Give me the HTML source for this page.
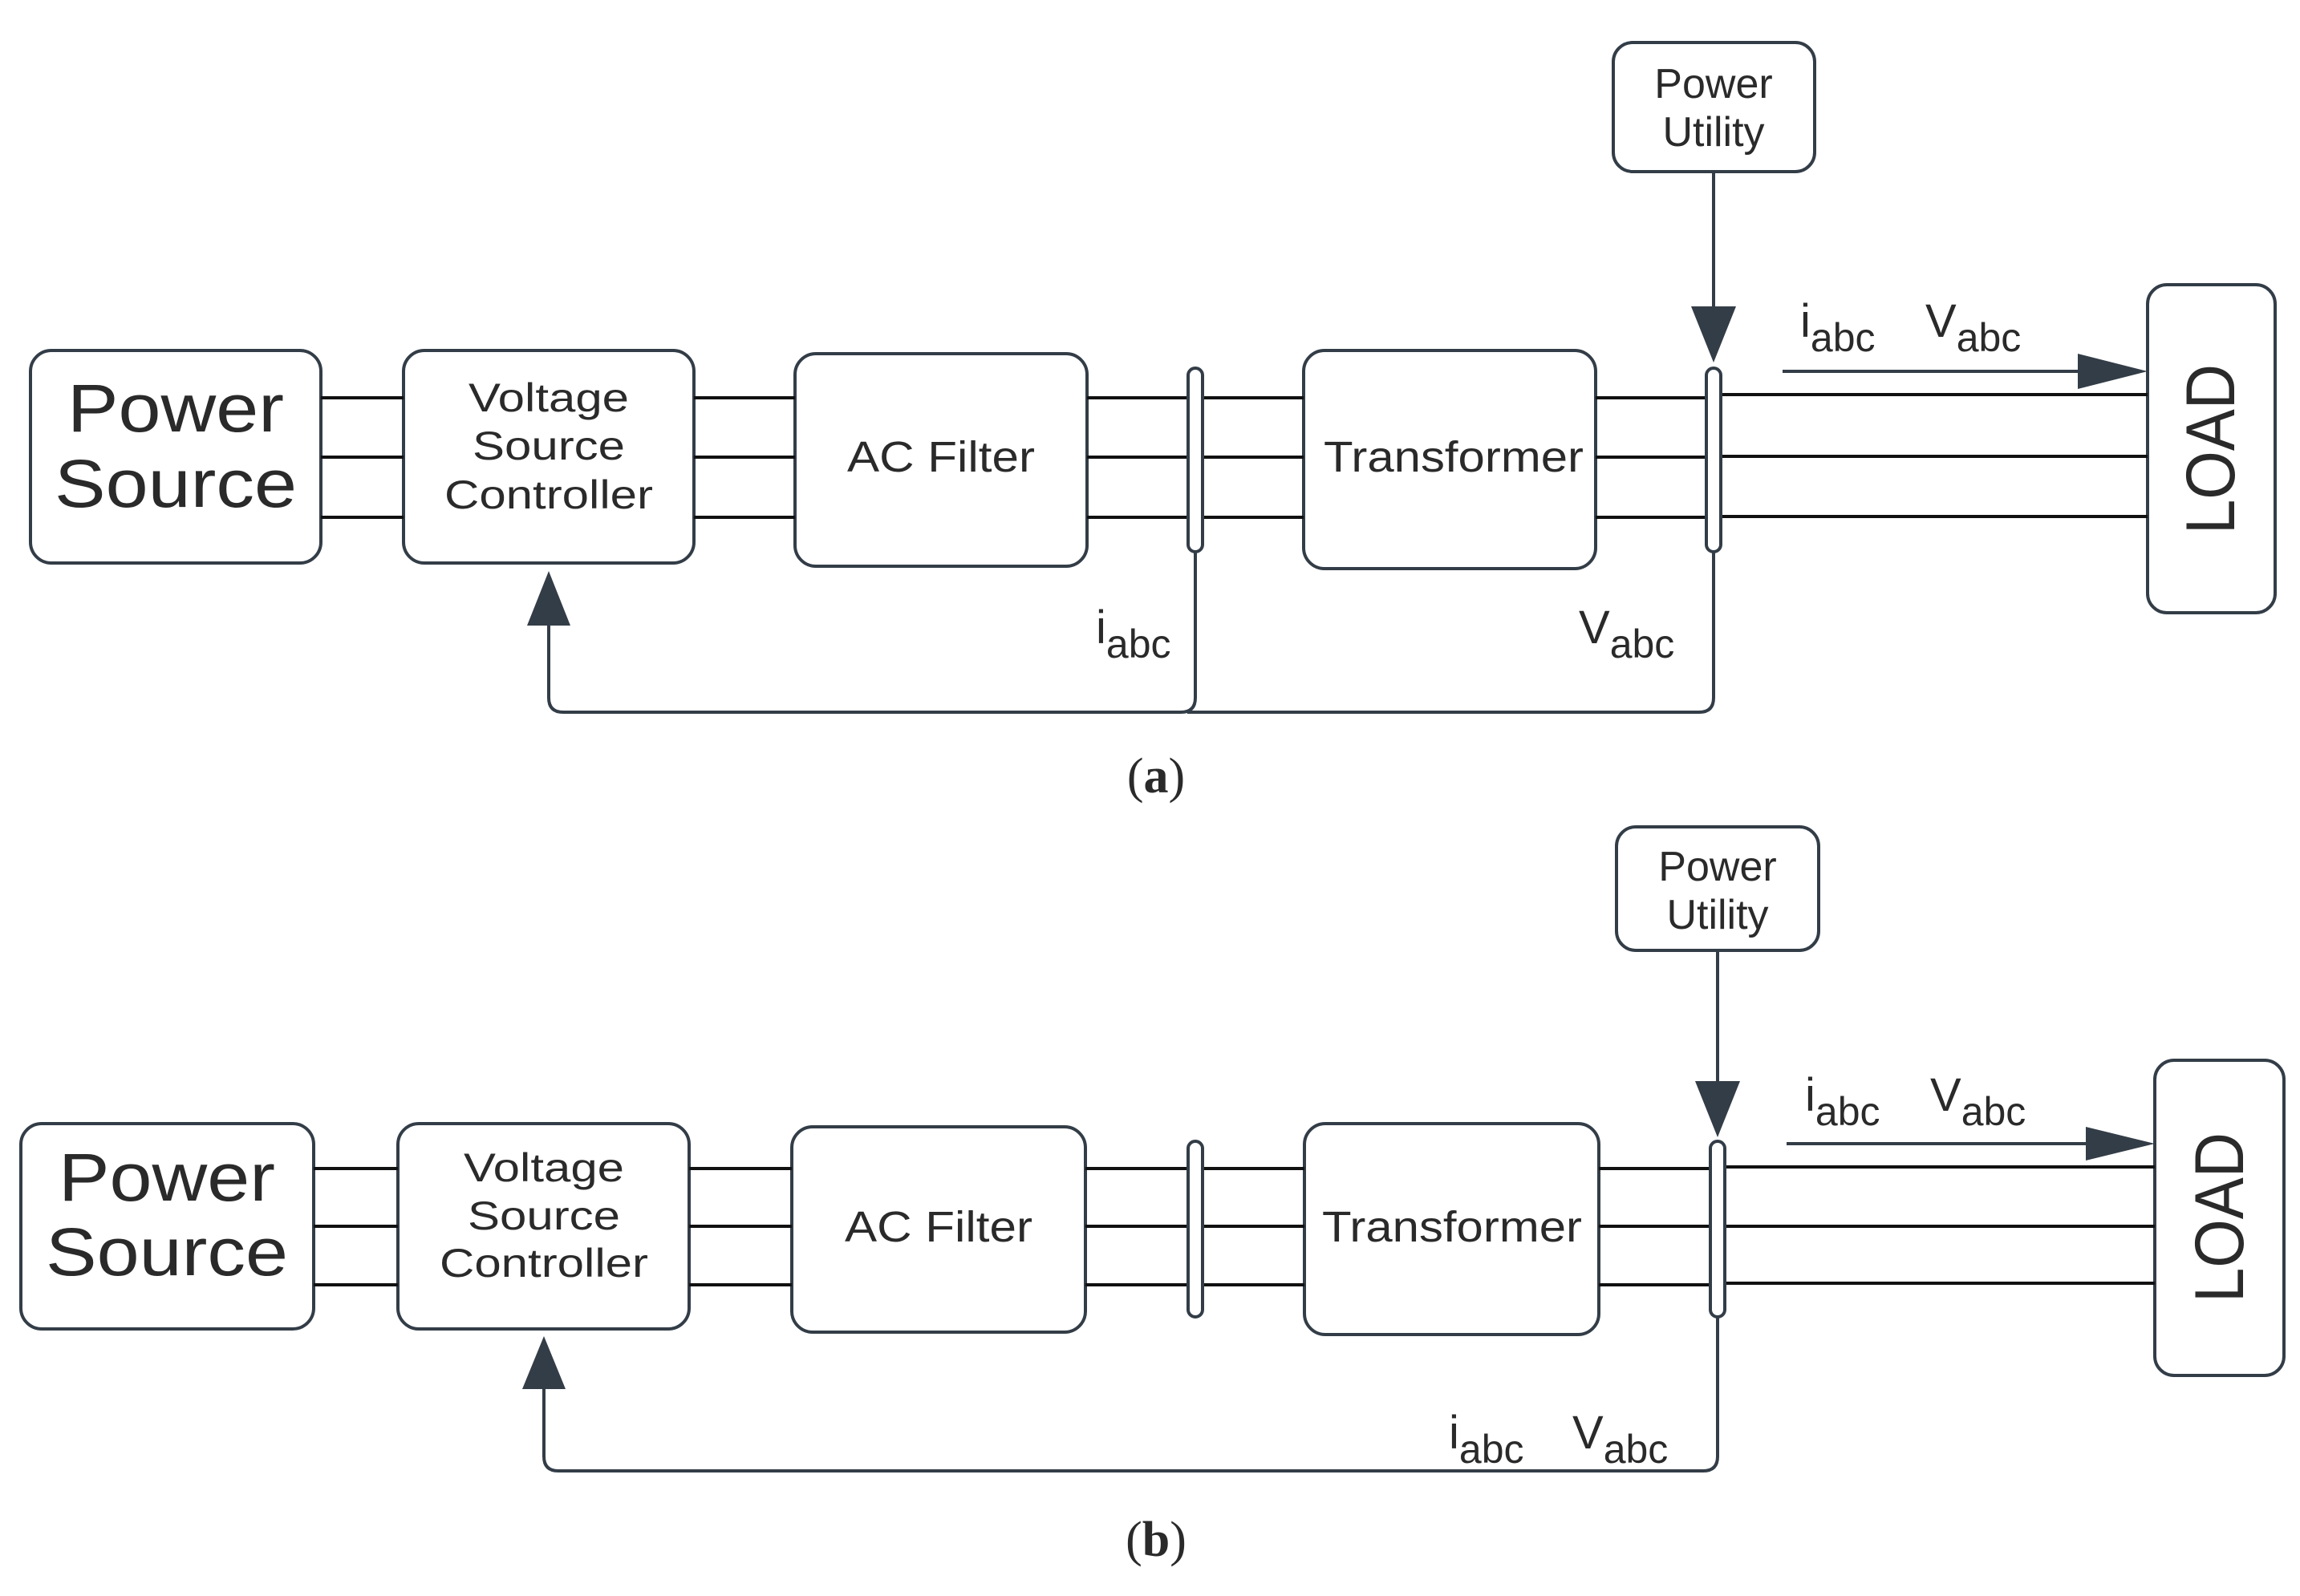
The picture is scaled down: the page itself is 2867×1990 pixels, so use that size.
<!DOCTYPE html>
<html><head><meta charset="utf-8"><style>
html,body{margin:0;padding:0;background:#fff}
svg{display:block}
text{font-family:"Liberation Sans",sans-serif;fill:#2a2a2a}
</style></head><body>
<svg width="2867" height="1990" viewBox="0 0 2867 1990" xmlns="http://www.w3.org/2000/svg">
<g fill="none" stroke="#333d47" stroke-width="4">
<!-- TOP -->
<rect x="38" y="437" width="362" height="265" rx="26"/>
<rect x="503" y="437" width="362" height="265" rx="26"/>
<rect x="991" y="441" width="364" height="265" rx="26"/>
<rect x="1625" y="437" width="364" height="272" rx="26"/>
<rect x="2011" y="53" width="251" height="161" rx="24"/>
<rect x="2677" y="355" width="159" height="409" rx="24"/>
<g stroke="#111">
<line x1="400" y1="496" x2="503" y2="496"/><line x1="400" y1="570" x2="503" y2="570"/><line x1="400" y1="645" x2="503" y2="645"/>
<line x1="865" y1="496" x2="991" y2="496"/><line x1="865" y1="570" x2="991" y2="570"/><line x1="865" y1="645" x2="991" y2="645"/>
<line x1="1355" y1="496" x2="1625" y2="496"/><line x1="1355" y1="570" x2="1625" y2="570"/><line x1="1355" y1="645" x2="1625" y2="645"/>
<line x1="1989" y1="496" x2="2136" y2="496"/><line x1="1989" y1="570" x2="2136" y2="570"/><line x1="1989" y1="645" x2="2136" y2="645"/>
<line x1="2136" y1="492" x2="2677" y2="492"/><line x1="2136" y1="569" x2="2677" y2="569"/><line x1="2136" y1="644" x2="2677" y2="644"/>
</g>
<rect x="1481" y="459" width="18" height="229" rx="9" fill="#fff"/>
<rect x="2127" y="459" width="18" height="229" rx="9" fill="#fff"/>
<line x1="2136" y1="214" x2="2136" y2="385"/>
<line x1="2222" y1="463" x2="2600" y2="463"/>
<path d="M1490 688 V870 q0 18 -18 18 H702 q-18 0 -18 -18 V775"/>
<path d="M2136 688 V870 q0 18 -18 18 H1480"/>
<!-- BOTTOM -->
<rect x="26" y="1401" width="365" height="256" rx="26"/>
<rect x="496" y="1401" width="363" height="256" rx="26"/>
<rect x="987" y="1405" width="366" height="256" rx="26"/>
<rect x="1626" y="1401" width="367" height="263" rx="26"/>
<rect x="2015" y="1031" width="252" height="154" rx="24"/>
<rect x="2686" y="1322" width="161" height="393" rx="24"/>
<g stroke="#111">
<line x1="391" y1="1457" x2="496" y2="1457"/><line x1="391" y1="1529" x2="496" y2="1529"/><line x1="391" y1="1602" x2="496" y2="1602"/>
<line x1="859" y1="1457" x2="987" y2="1457"/><line x1="859" y1="1529" x2="987" y2="1529"/><line x1="859" y1="1602" x2="987" y2="1602"/>
<line x1="1353" y1="1457" x2="1626" y2="1457"/><line x1="1353" y1="1529" x2="1626" y2="1529"/><line x1="1353" y1="1602" x2="1626" y2="1602"/>
<line x1="1993" y1="1457" x2="2141" y2="1457"/><line x1="1993" y1="1529" x2="2141" y2="1529"/><line x1="1993" y1="1602" x2="2141" y2="1602"/>
<line x1="2141" y1="1455" x2="2686" y2="1455"/><line x1="2141" y1="1529" x2="2686" y2="1529"/><line x1="2141" y1="1600" x2="2686" y2="1600"/>
</g>
<rect x="1481" y="1423" width="18" height="219" rx="9" fill="#fff"/>
<rect x="2132" y="1423" width="18" height="219" rx="9" fill="#fff"/>
<line x1="2141" y1="1185" x2="2141" y2="1352"/>
<line x1="2227" y1="1426" x2="2610" y2="1426"/>
<path d="M2141 1642 V1816 q0 18 -18 18 H696 q-18 0 -18 -18 V1730"/>
</g>
<g fill="#333d47">
<polygon points="2108,382 2164,382 2136,452"/>
<polygon points="2590,441 2677,463 2590,485"/>
<polygon points="684,712 657,780 711,780"/>
<polygon points="2113,1348 2169,1348 2141,1418"/>
<polygon points="2600,1405 2686,1426 2600,1447"/>
<polygon points="678,1666 651,1732 705,1732"/>
</g>
<!-- TEXT TOP -->
<g text-anchor="middle">
<text x="219" y="538" font-size="84" textLength="270" lengthAdjust="spacingAndGlyphs">Power</text>
<text x="219" y="632" font-size="84" textLength="302" lengthAdjust="spacingAndGlyphs">Source</text>
<text x="684" y="513" font-size="50" textLength="200" lengthAdjust="spacingAndGlyphs">Voltage</text>
<text x="684" y="573" font-size="50" textLength="190" lengthAdjust="spacingAndGlyphs">Source</text>
<text x="684" y="634" font-size="50" textLength="260" lengthAdjust="spacingAndGlyphs">Controller</text>
<text x="1173" y="588" font-size="54" textLength="234" lengthAdjust="spacingAndGlyphs">AC Filter</text>
<text x="1812" y="588" font-size="54" textLength="324" lengthAdjust="spacingAndGlyphs">Transformer</text>
<text x="2136" y="122" font-size="52">Power</text>
<text x="2136" y="182" font-size="52">Utility</text>
<text transform="translate(2785,560) rotate(-90)" font-size="86" textLength="212" lengthAdjust="spacingAndGlyphs">LOAD</text>
</g>
<g font-size="58">
<text x="2244" y="420">i<tspan font-size="50" dy="18">abc</tspan></text>
<text x="2400" y="420">V<tspan font-size="50" dy="18">abc</tspan></text>
<text x="1366" y="802">i<tspan font-size="50" dy="18">abc</tspan></text>
<text x="1968" y="802">V<tspan font-size="50" dy="18">abc</tspan></text>
<text x="2250" y="1385">i<tspan font-size="50" dy="18">abc</tspan></text>
<text x="2406" y="1385">V<tspan font-size="50" dy="18">abc</tspan></text>
<text x="1806" y="1806">i<tspan font-size="50" dy="18">abc</tspan></text>
<text x="1960" y="1806">V<tspan font-size="50" dy="18">abc</tspan></text>
</g>
<!-- TEXT BOTTOM -->
<g text-anchor="middle">
<text x="208" y="1497" font-size="84" textLength="270" lengthAdjust="spacingAndGlyphs">Power</text>
<text x="208" y="1590" font-size="84" textLength="302" lengthAdjust="spacingAndGlyphs">Source</text>
<text x="678" y="1473" font-size="50" textLength="200" lengthAdjust="spacingAndGlyphs">Voltage</text>
<text x="678" y="1533" font-size="50" textLength="190" lengthAdjust="spacingAndGlyphs">Source</text>
<text x="678" y="1592" font-size="50" textLength="260" lengthAdjust="spacingAndGlyphs">Controller</text>
<text x="1170" y="1548" font-size="54" textLength="234" lengthAdjust="spacingAndGlyphs">AC Filter</text>
<text x="1810" y="1548" font-size="54" textLength="324" lengthAdjust="spacingAndGlyphs">Transformer</text>
<text x="2141" y="1098" font-size="52">Power</text>
<text x="2141" y="1158" font-size="52">Utility</text>
<text transform="translate(2796,1518) rotate(-90)" font-size="86" textLength="212" lengthAdjust="spacingAndGlyphs">LOAD</text>
<text x="1441" y="988" font-size="62" style="font-family:'Liberation Serif',serif">(<tspan font-weight="bold">a</tspan>)</text>
<text x="1441" y="1940" font-size="62" style="font-family:'Liberation Serif',serif">(<tspan font-weight="bold">b</tspan>)</text>
</g>
</svg>
</body></html>
